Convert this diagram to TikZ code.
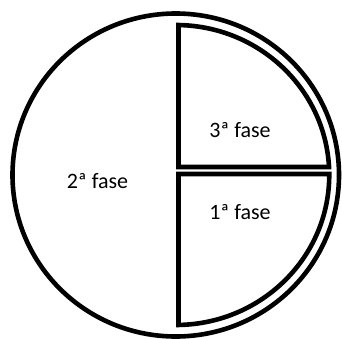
\documentclass[tikz,border=0pt]{standalone}
\usepackage{fontspec}
\setmainfont{Carlito}
\begin{document}
\begin{tikzpicture}[x=1pt, y=1pt,
    borde/.style={line width=4.6pt, line join=miter},
    etiqueta/.style={font=\fontsize{22}{26}\selectfont, inner sep=0pt}]
\useasboundingbox (0,0) rectangle (342,338);
\coordinate (c) at (175.75,163);
% circulo exterior
\draw[borde] (c) ellipse[x radius=163.25, y radius=161.5];
% sector superior
\draw[borde] (178.5,171) -- ([shift={(c)}]3.06:153.5 and 150)
    arc[start angle=3.06, end angle=88.97, x radius=153.5, y radius=150] -- cycle;
% sector inferior
\draw[borde] (178.5,164) -- ([shift={(c)}]0.38:153.5 and 150)
    arc[start angle=0.38, end angle=-88.97, x radius=153.5, y radius=150] -- cycle;
\node[etiqueta] (fase2) at (97.5,157) {2ª fase};
\node[etiqueta] (fase3) at (240,208) {3ª fase};
\node[etiqueta] (fase1) at (240,126) {1ª fase};
\end{tikzpicture}
\end{document}
